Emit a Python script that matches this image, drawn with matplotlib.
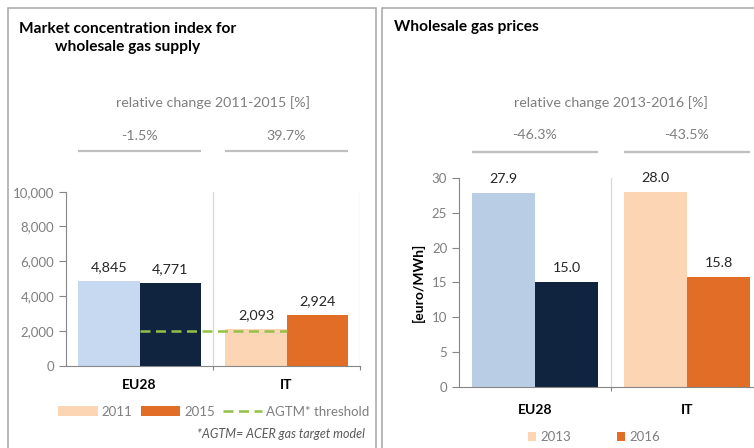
import matplotlib
matplotlib.use('Agg')
import matplotlib.pyplot as plt
from matplotlib.patches import Patch, Rectangle
from matplotlib.lines import Line2D
import matplotlib.transforms as mtransforms

plt.rcParams['font.family'] = ['Lato', 'DejaVu Sans']

# Data
countries = ['EU28', 'IT']
hhi_2011 = [4845, 2093]
hhi_2015 = [4771, 2924]
hhi_change = ['-1.5%', '39.7%']
agtm_threshold = 2000
hhi_ticks = [0, 2000, 4000, 6000, 8000, 10000]

price_2013 = [27.9, 28.0]
price_2016 = [15.0, 15.8]
price_change = ['-46.3%', '-43.5%']
price_ticks = [0, 5, 10, 15, 20, 25, 30]

# Colors (first year light, second year dark; EU28 blue, IT orange)
LIGHT_L = ['#C6D9F1', '#FCD5B5']
DARK = ['#10243F', '#E26D26']
LIGHT_R = ['#B9CDE5', '#FCD5B5']
GREEN = '#93C047'
GRAY_TXT = '#7F7F7F'
GRAY_LINE = '#BFBFBF'
AXIS = '#868686'
SEP = '#D9D9D9'

W, H = 754, 448


def rect(x0, y0, x1, y1):
    return [x0 / W, 1 - y1 / H, (x1 - x0) / W, (y1 - y0) / H]


def style_axis(ax, ticks, fmt):
    for s in ['top', 'right']:
        ax.spines[s].set_visible(False)
    ax.spines['left'].set_color(AXIS)
    ax.spines['bottom'].set_color(AXIS)
    ax.set_yticks(ticks)
    ax.set_yticklabels([fmt(t) for t in ticks])
    ax.tick_params(axis='y', colors=AXIS, labelcolor=GRAY_TXT, labelsize=9.5, length=5)
    ax.set_xticks([0.5, 1.5])
    ax.set_xticklabels([])
    ax.tick_params(axis='x', colors=AXIS, length=3)
    for b in [0.5, 1.5]:
        ax.axvline(b, color=SEP, lw=0.9, zorder=0)
    for i, c in enumerate(countries):
        ax.text(i, -0.11, c, transform=mtransforms.blended_transform_factory(ax.transData, ax.transAxes),
                ha='center', va='center', fontsize=10, fontweight='bold', color='#000000')


def change_header(ax, title, labels, y_title, y_val, y_line, half):
    tr = mtransforms.blended_transform_factory(ax.transData, ax.transAxes)
    ax.text(0.5, y_title, title, transform=tr, ha='center', va='center', fontsize=10.3, color=GRAY_TXT)
    for i, lab in enumerate(labels):
        ax.text(i, y_val, lab, transform=tr, ha='center', va='center', fontsize=10.3, color=GRAY_TXT)
        ax.plot([i - half, i + half], [y_line, y_line], transform=tr, color=GRAY_LINE, lw=1.6,
                clip_on=False, solid_capstyle='butt')


fig = plt.figure(figsize=(W / 100, H / 100), dpi=100)

# Panel borders
for x0, x1 in [(8, 375.7), (381.7, 800)]:
    fig.add_artist(Rectangle((x0 / W, -0.1), (x1 - x0) / W, 1 - 8.3 / H + 0.1,
                             transform=fig.transFigure, fill=False, ec='#A6A6A6', lw=1.1))

bw = 0.415
x = list(range(len(countries)))

# Left panel: market concentration index
axl = fig.add_axes(rect(66, 191.7, 360, 365.7))
axl.bar([i - bw / 2 for i in x], hhi_2011, bw, color=LIGHT_L)
axl.bar([i + bw / 2 for i in x], hhi_2015, bw, color=DARK)
axl.plot([x[0], x[1]], [agtm_threshold, agtm_threshold], color=GREEN, lw=1.8, dashes=(4, 2.2))
for i in x:
    axl.annotate(f'{hhi_2011[i]:,}', (i - bw / 2, hhi_2011[i]), xytext=(0, 10), textcoords='offset points',
                 ha='center', va='center', fontsize=10.3, color='#262626')
    axl.annotate(f'{hhi_2015[i]:,}', (i + bw / 2, hhi_2015[i]), xytext=(0, 10), textcoords='offset points',
                 ha='center', va='center', fontsize=10.3, color='#262626')
axl.set_xlim(-0.5, 1.5)
axl.set_ylim(0, 10000)
style_axis(axl, hhi_ticks, lambda t: f'{t:,}')
change_header(axl, 'relative change 2011-2015 [%]', hhi_change, 1.51, 1.32, 1.234, bw)

fig.text(128 / W, 1 - 38 / H, 'Market concentration index for\nwholesale gas supply', ha='center', va='center',
         fontsize=11.2, fontweight='bold', linespacing=1.45, color='#000000')

fig.legend(handles=[Patch(fc=LIGHT_R[1]), Patch(fc=DARK[1]),
                    Line2D([], [], color=GREEN, lw=1.8, dashes=(4, 2.2))],
           labels=['2011', '2015', 'AGTM* threshold'], loc='center', bbox_to_anchor=(214 / W, 1 - 412 / H),
           ncol=3, frameon=False, fontsize=9.5, labelcolor=GRAY_TXT, handlelength=3, handleheight=0.8,
           handletextpad=0.3, columnspacing=0.6)
fig.text(365 / W, 1 - 434 / H, '*AGTM= ACER gas target model', ha='right', va='center', fontsize=9,
         style='italic', color='#595959')

# Right panel: wholesale gas prices
axr = fig.add_axes(rect(459, 178, 763, 386.7))
axr.bar([i - bw / 2 for i in x], price_2013, bw, color=LIGHT_R)
axr.bar([i + bw / 2 for i in x], price_2016, bw, color=DARK)
for i in x:
    axr.annotate(f'{price_2013[i]:.1f}', (i - bw / 2, price_2013[i]), xytext=(0, 10), textcoords='offset points',
                 ha='center', va='center', fontsize=10.3, color='#262626')
    axr.annotate(f'{price_2016[i]:.1f}', (i + bw / 2, price_2016[i]), xytext=(0, 10), textcoords='offset points',
                 ha='center', va='center', fontsize=10.3, color='#262626')
axr.set_xlim(-0.5, 1.5)
axr.set_ylim(0, 30)
style_axis(axr, price_ticks, lambda t: f'{t}')
axr.set_ylabel('[euro/MWh]', fontsize=10, fontweight='bold', labelpad=5)
change_header(axr, 'relative change 2013-2016 [%]', price_change, 1.362, 1.204, 1.126, bw)

fig.text(394 / W, 1 - 27 / H, 'Wholesale gas prices', ha='left', va='center', fontsize=11.2,
         fontweight='bold', color='#000000')

fig.legend(handles=[Patch(fc=LIGHT_R[1]), Patch(fc=DARK[1])], labels=['2013', '2016'], loc='center',
           bbox_to_anchor=(594 / W, 1 - 437 / H), ncol=2, frameon=False, fontsize=9.5, labelcolor=GRAY_TXT,
           handlelength=0.6, handleheight=0.6, handletextpad=0.3, columnspacing=3.5)

fig.savefig('out.png', dpi=100)
